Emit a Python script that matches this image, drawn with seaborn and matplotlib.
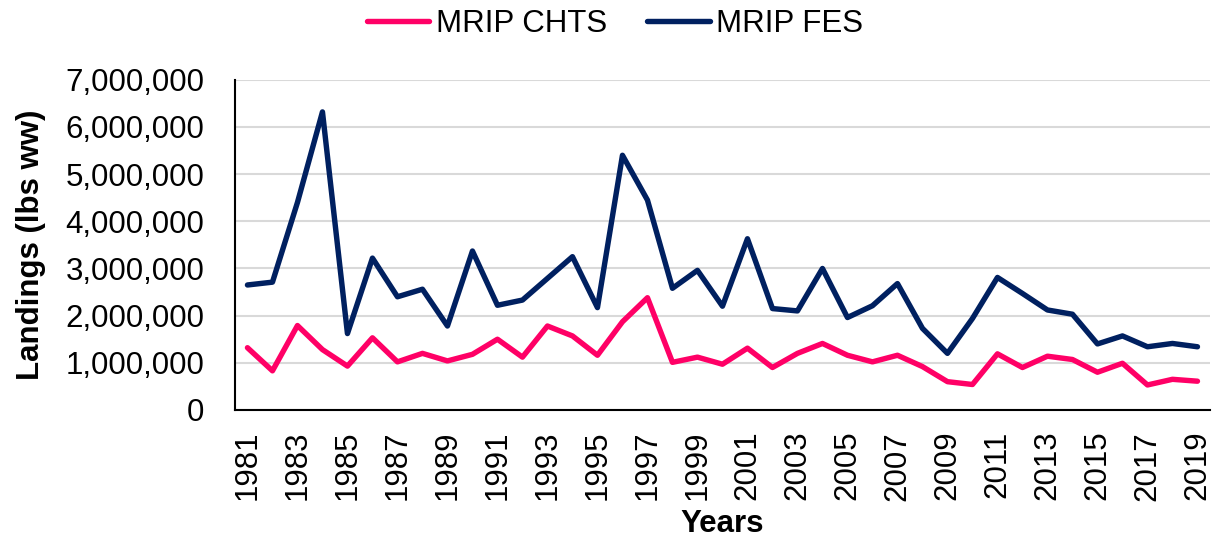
import numpy as np
import pandas as pd
import matplotlib.pyplot as plt
import seaborn as sns
from matplotlib.ticker import FuncFormatter, FixedLocator

# Data

years = list(range(1981, 2020))

mrip_chts = [
    1.32, 0.83, 1.79, 1.28, 0.93, 1.53, 1.02, 1.20, 1.04, 1.18,
    1.50, 1.12, 1.78, 1.57, 1.16, 1.87, 2.38, 1.01, 1.12, 0.97,
    1.31, 0.90, 1.20, 1.41, 1.16, 1.02, 1.16, 0.92, 0.60, 0.54,
    1.19, 0.90, 1.14, 1.07, 0.80, 0.99, 0.53, 0.65, 0.61,
]

mrip_fes = [
    2.65, 2.71, 4.40, 6.32, 1.62, 3.22, 2.40, 2.56, 1.78, 3.37,
    2.22, 2.33, 2.79, 3.25, 2.17, 5.40, 4.45, 2.58, 2.96, 2.20,
    3.63, 2.15, 2.10, 3.00, 1.96, 2.21, 2.68, 1.73, 1.20, 1.94,
    2.81, 2.47, 2.12, 2.03, 1.40, 1.57, 1.34, 1.41, 1.34,
]

series_names = ["MRIP CHTS", "MRIP FES"]
series_colors = ["#FF0066", "#002060"]

df = pd.DataFrame({
    "Years": years * 2,
    "Landings": [v * 1e6 for v in mrip_chts + mrip_fes],
    "Source": [series_names[0]] * len(years) + [series_names[1]] * len(years),
})

# Style

sns.set_style("white")
plt.rcParams["font.family"] = ["Liberation Sans", "DejaVu Sans"]
plt.rcParams["text.color"] = "black"
plt.rcParams["axes.labelcolor"] = "black"
plt.rcParams["xtick.color"] = "black"
plt.rcParams["ytick.color"] = "black"
plt.rcParams["lines.solid_capstyle"] = "round"
plt.rcParams["lines.solid_joinstyle"] = "round"

fs = 22.5

fig = plt.figure(figsize=(12.13, 5.43), dpi=100)
ax = fig.add_axes([0.1937, 0.245, 0.8038, 0.608])

sns.lineplot(
    data=df,
    x="Years",
    y="Landings",
    hue="Source",
    palette=dict(zip(series_names, series_colors)),
    linewidth=3.9,
    ax=ax,
    legend=True,
)

# Axes

ax.set_ylim(0, 7e6)
ax.set_xlim(years[0] - 0.5, years[-1] + 0.5)
ax.yaxis.set_major_locator(FixedLocator(np.arange(0, 7e6 + 1, 1e6)))
ax.yaxis.set_major_formatter(FuncFormatter(lambda v, p: f"{int(v):,}"))
ax.yaxis.grid(True, color="#D9D9D9", linewidth=1.5)
ax.set_axisbelow(True)

ax.set_xticks(years[::2])
ax.set_xticklabels([str(y) for y in years[::2]], rotation=90)
ax.set_xticks([y - 0.5 for y in years] + [years[-1] + 0.5], minor=True)
ax.tick_params(axis="x", which="major", length=0, pad=15, labelsize=fs)
ax.tick_params(axis="x", which="minor", direction="in", length=6,
               width=1.2, color="black")
ax.tick_params(axis="y", length=0, pad=22, labelsize=fs)

for side in ["top", "right"]:
    ax.spines[side].set_visible(False)
for side in ["left", "bottom"]:
    ax.spines[side].set_color("black")
    ax.spines[side].set_linewidth(1.5)

ax.set_xlabel("Years", fontsize=fs, fontweight="bold", labelpad=6)
ax.set_ylabel("Landings (lbs ww)", fontsize=fs, fontweight="bold", labelpad=14)

# Legend on top
ax.get_legend().remove()
handles, labels = ax.get_legend_handles_labels()
fig.legend(
    handles, labels,
    loc="upper center",
    bbox_to_anchor=(0.507, 1.035),
    ncol=2,
    frameon=False,
    fontsize=fs,
    handlelength=2.0,
    handletextpad=0.2,
    columnspacing=1.3,
)

plt.savefig("out.png", dpi=100)
